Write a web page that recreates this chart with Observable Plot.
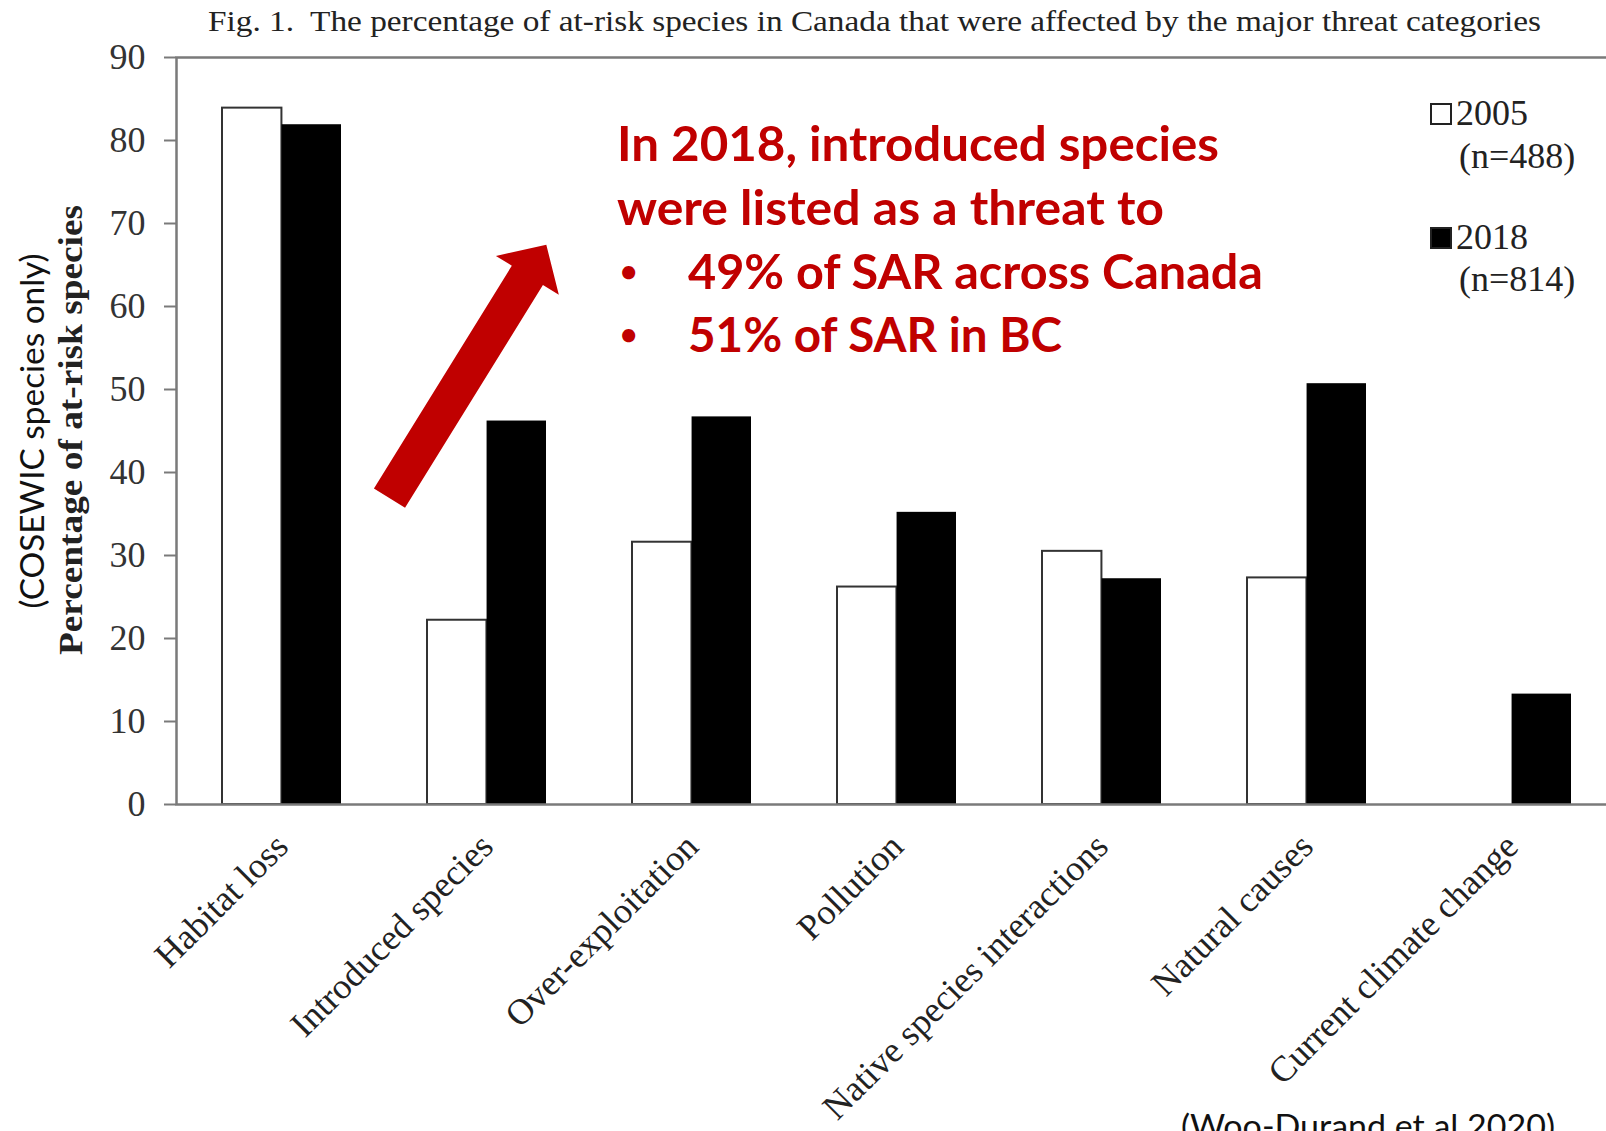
<!DOCTYPE html>
<html><head><meta charset="utf-8">
<script src="https://cdn.jsdelivr.net/npm/d3@7"></script>
<script src="https://cdn.jsdelivr.net/npm/@observablehq/plot@0.6"></script>
<style>
html,body{margin:0;padding:0;background:#fff;overflow:hidden;}
#chart{width:1606px;height:1131px;position:relative;}
</style></head><body><div id="chart"></div>
<script>
// ---- data ----
const categories = ["Habitat loss","Introduced species","Over-exploitation","Pollution","Native species interactions","Natural causes","Current climate change"];
const values2005 = [83.9, 22.2, 31.6, 26.2, 30.5, 27.3, null];
const values2018 = [81.9, 46.2, 46.7, 35.2, 27.2, 50.7, 13.3];
const years = ["2005","2018"];
const sampleSizes = ["(n=488)","(n=814)"];
const yTicks = [0,10,20,30,40,50,60,70,80,90];
const titleText = "Fig. 1.  The percentage of at-risk species in Canada that were affected by the major threat categories";
const yLabel = "Percentage of at-risk species";
const yLabel2 = "(COSEWIC species only)";
const noteLines = ["In 2018, introduced species","were listed as a threat to"];
const noteBullets = ["49% of SAR across Canada","51% of SAR in BC"];
const captionText = "(Woo-Durand et al 2020)";
const arrowFrom = [0.817, 36.85]; // [category steps from first band, percent]
const arrowTo = [1.582, 67.38];

// ---- layout ----
const W = 1606, H = 1131;
const xRange = [177, 1615];
const padIn = 0.42, padOut = 0.21;
const step = (xRange[1] - xRange[0]) / (categories.length - padIn + 2 * padOut);
const half = step * (1 - padIn) / 2;

const rows = categories.flatMap((c, i) => [
  {category: c, year: years[0], value: values2005[i]},
  {category: c, year: years[1], value: values2018[i]}
]).filter(d => d.value != null);

const serif = "'Liberation Serif', 'Times New Roman', serif";
const sans = "Lato, 'Open Sans', sans-serif";

function arrowMark(index, scales) {
  const x0 = scales.x(categories[0]);
  const st = scales.x(categories[1]) - scales.x(categories[0]);
  const ax = x0 + arrowFrom[0] * st, ay = scales.y(arrowFrom[1]);
  const bx = x0 + arrowTo[0] * st, by = scales.y(arrowTo[1]);
  const len = Math.hypot(bx - ax, by - ay);
  const ux = (bx - ax) / len, uy = (by - ay) / len;
  const nx = -uy, ny = ux;
  const sw = 18.3, hw = 37, hl = 36;
  const hx = bx - ux * hl, hy = by - uy * hl;
  const pts = [
    [ax + nx * sw, ay + ny * sw],
    [hx + nx * sw, hy + ny * sw],
    [hx + nx * hw, hy + ny * hw],
    [bx, by],
    [hx - nx * hw, hy - ny * hw],
    [hx - nx * sw, hy - ny * sw],
    [ax - nx * sw, ay - ny * sw]
  ];
  const g = d3.create("svg:g");
  g.append("path").attr("d", "M" + pts.map(p => p.join(",")).join("L") + "Z").attr("fill", "#C00000");
  return g.node();
}

const chart = Plot.plot({
  width: W, height: H,
  marginLeft: 176, marginRight: -9, marginTop: 57, marginBottom: 327,
  style: {background: "white", fontFamily: serif},
  x: {domain: categories, range: xRange, paddingInner: padIn, paddingOuter: padOut},
  y: {domain: [0, 90]},
  marks: [
    Plot.barY(rows.filter(d => d.year === years[0]), {x: "category", y: "value", fill: "white", stroke: "#333", strokeWidth: 2, insetRight: half}),
    Plot.barY(rows.filter(d => d.year === years[1]), {x: "category", y: "value", fill: "black", insetLeft: half}),
    Plot.frame({stroke: "#7a7a7a", strokeWidth: 2.5}),
    Plot.axisY({ticks: yTicks, tickSize: 12, tickPadding: 19, fontSize: 36, fontFamily: serif, stroke: "#7a7a7a", strokeWidth: 2, fill: "#333", label: null}),
    Plot.axisX({tickSize: 0, tickRotate: -45, tickPadding: 36, fontSize: 36, fontFamily: serif, fill: "#222", label: null}),
    arrowMark
  ]
});

document.getElementById("chart").appendChild(chart);
const svg = d3.select(chart);
const overlay = svg.append("g").attr("text-anchor", "start");

// title
overlay.append("text").attr("x", 208).attr("y", 31).attr("font-family", serif).attr("font-size", 30)
  .attr("fill", "#222").attr("textLength", 1333).attr("lengthAdjust", "spacingAndGlyphs").text(titleText);

// y labels
overlay.append("text").attr("transform", "translate(70,430) rotate(-90)").attr("text-anchor", "middle").attr("dy", "0.35em")
  .attr("font-family", serif).attr("font-weight", "bold").attr("font-size", 34).attr("fill", "#222")
  .attr("textLength", 450).attr("lengthAdjust", "spacingAndGlyphs").text(yLabel);
overlay.append("text").attr("transform", "translate(33,431) rotate(-90)").attr("text-anchor", "middle").attr("dy", "0.35em")
  .attr("font-family", sans).attr("font-size", 32).attr("fill", "#111")
  .attr("textLength", 355).attr("lengthAdjust", "spacingAndGlyphs").text(yLabel2);

// legend
const legY = [[114, 125, 168], [238, 249, 291]];
years.forEach((yr, i) => {
  overlay.append("rect").attr("x", 1431).attr("y", legY[i][0] - 10).attr("width", 20).attr("height", 20)
    .attr("fill", i === 0 ? "white" : "black").attr("stroke", "#222").attr("stroke-width", 2);
  overlay.append("text").attr("x", 1456).attr("y", legY[i][1]).attr("font-family", serif).attr("font-size", 36).attr("fill", "#222").text(yr);
  overlay.append("text").attr("x", 1459).attr("y", legY[i][2]).attr("font-family", serif).attr("font-size", 36).attr("fill", "#222").text(sampleSizes[i]);
});

// annotation
const red = "#C00000";
const noteBase = [161, 225, 289, 352];
const noteLen = [602, 547];
noteLines.forEach((t, i) => {
  overlay.append("text").attr("x", 617).attr("y", noteBase[i]).attr("font-family", sans).attr("font-weight", "bold")
    .attr("font-size", 48).attr("fill", red).attr("textLength", noteLen[i]).attr("lengthAdjust", "spacingAndGlyphs").text(t);
});
const bulletLen = [575, 374];
noteBullets.forEach((t, i) => {
  overlay.append("text").attr("x", 620).attr("y", noteBase[i + 2] - 7).attr("font-family", sans).attr("font-weight", "bold")
    .attr("font-size", 30).attr("fill", red).text("\u2022");
  overlay.append("text").attr("x", 688).attr("y", noteBase[i + 2]).attr("font-family", sans).attr("font-weight", "bold")
    .attr("font-size", 48).attr("fill", red).attr("textLength", bulletLen[i]).attr("lengthAdjust", "spacingAndGlyphs").text(t);
});

// caption (partly cut by the bottom edge, as in the source image)
overlay.append("text").attr("x", 1181).attr("y", 1138).attr("font-family", sans).attr("font-size", 32).attr("fill", "#111")
  .attr("textLength", 374).attr("lengthAdjust", "spacingAndGlyphs").text(captionText);
</script></body></html>
